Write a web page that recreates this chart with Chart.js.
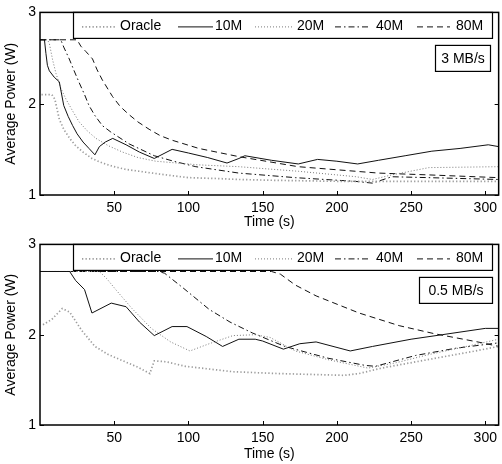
<!DOCTYPE html>
<html>
<head>
<meta charset="utf-8">
<script src="https://cdn.jsdelivr.net/npm/chart.js@4.4.1/dist/chart.umd.min.js"></script>
<style>
  html, body { margin: 0; padding: 0; background: #fff; }
  #wrap { width: 502px; height: 464px; position: relative; }
  .panel { position: absolute; left: 0; width: 502px; height: 232px; }
</style>
</head>
<body>
<div id="wrap">
  <div class="panel" style="top:0"><canvas id="top"></canvas></div>
  <div class="panel" style="top:232px"><canvas id="bottom"></canvas></div>
</div>
<script>
// series names, ticks
const seriesNames = ['Oracle', '10M', '20M', '40M', '80M'];
const xTicks = [50, 100, 150, 200, 250, 300];
const yTicks = [1, 2, 3];
const rateLabels = ['3 MB/s', '0.5 MB/s'];

// 3 MB/s panel: [time (s), power (W)]
const topOracle = [[1,2.1],[8,2.1],[10,2.05],[13,1.83],[16,1.72],[20,1.62],[24,1.54],[29,1.47],[35,1.40],[42,1.35],[50,1.31],[58,1.28],[67,1.26],[80,1.23],[100,1.19],[120,1.18],[134,1.17],[160,1.16],[200,1.15],[240,1.15],[280,1.15],[309,1.15]];
const top10M = [[0,2.7],[3,2.7],[4,2.55],[5,2.42],[6.3,2.36],[9.6,2.29],[13,2.24],[16,1.98],[19,1.86],[22,1.76],[25,1.67],[29,1.58],[33,1.51],[37,1.44],[40,1.53],[44,1.58],[49,1.62],[58,1.55],[67,1.47],[77,1.40],[89,1.50],[100,1.46],[113,1.41],[126,1.35],[134,1.40],[138,1.43],[156,1.38],[174,1.34],[187,1.39],[200,1.37],[214,1.34],[228,1.38],[246,1.43],[264,1.48],[283,1.51],[302,1.55],[309,1.53]];
const top20M = [[0,2.7],[5,2.7],[6.3,2.66],[8.5,2.48],[10.8,2.33],[14,2.17],[17.5,2.05],[22,1.92],[26.4,1.80],[32,1.70],[37.7,1.62],[46,1.54],[55.6,1.47],[66,1.41],[78,1.37],[107,1.33],[134,1.31],[174,1.26],[213,1.20],[224,1.17],[237,1.22],[262,1.30],[309,1.31]];
const top40M = [[0,2.7],[14,2.7],[16,2.62],[19.7,2.49],[23,2.36],[26.4,2.23],[30,2.10],[33,1.98],[37,1.87],[42,1.76],[47.7,1.69],[60,1.56],[77,1.43],[90,1.37],[105,1.31],[134,1.24],[172,1.19],[212,1.15],[224,1.13],[237,1.20],[262,1.19],[309,1.17]];
const top80M = [[0,2.7],[25,2.7],[27.5,2.63],[31,2.57],[35.4,2.49],[38.5,2.37],[42,2.26],[48.8,2.08],[54,1.97],[60,1.88],[66,1.80],[73.5,1.72],[81,1.65],[89,1.60],[107,1.51],[134,1.42],[174,1.31],[228,1.24],[262,1.22],[309,1.19]];

// 0.5 MB/s panel
const botOracle = [[2,2.11],[8,2.17],[15,2.29],[20,2.25],[28,2.05],[37,1.87],[46,1.78],[56,1.71],[66,1.64],[74,1.57],[77,1.71],[85,1.70],[98,1.65],[130,1.59],[160,1.57],[205,1.55],[215,1.57],[230,1.63],[260,1.72],[290,1.81],[309,1.87]];
const bot10M = [[0,2.7],[20,2.7],[24,2.60],[30,2.50],[35,2.24],[48,2.35],[58,2.31],[67,2.14],[77,1.99],[89,2.09],[99,2.09],[112,1.98],[123,1.87],[134,1.95],[145,1.95],[150,1.93],[164,1.84],[175,1.90],[186,1.92],[209,1.82],[224,1.87],[250,1.95],[271,2.00],[300,2.07],[309,2.07]];
const bot20M = [[0,2.7],[40,2.7],[45,2.62],[51,2.50],[62,2.29],[75,2.07],[88,1.92],[101,1.82],[114,1.90],[130,1.99],[145,2.00],[155,1.97],[172,1.82],[195,1.72],[221,1.63],[240,1.69],[262,1.78],[290,1.88],[309,1.95]];
const bot40M = [[0,2.7],[80,2.7],[84,2.68],[97,2.51],[114,2.28],[128,2.14],[143,2.02],[165,1.87],[194,1.74],[219,1.66],[226,1.65],[253,1.77],[280,1.85],[309,1.91]];
const bot80M = [[0,2.7],[156,2.7],[162,2.67],[172,2.55],[186,2.43],[215,2.24],[242,2.10],[266,2.01],[298,1.91],[309,1.87]];

const lineStyles = [
  { borderColor: '#9c9c9c', borderWidth: 1.7, borderDash: [1.3, 2.2] },
  { borderColor: '#111', borderWidth: 1, borderDash: [] },
  { borderColor: '#7a7a7a', borderWidth: 1, borderDash: [1, 2] },
  { borderColor: '#111', borderWidth: 1, borderDash: [6, 3, 1.5, 3] },
  { borderColor: '#111', borderWidth: 1, borderDash: [6, 4] }
];
const FONT = '"Liberation Sans", Arial, Helvetica, sans-serif';

const toPts = arr => arr.map(([x, y]) => ({ x, y }));

// inner ticks, frame, legend box and rate label
const panelPlugin = {
  id: 'panel',
  afterDatasetsDraw(chart, args, opts) {
    const ctx = chart.ctx;
    const a = chart.chartArea;
    const xs = chart.scales.x, ys = chart.scales.y;
    ctx.save();
    ctx.strokeStyle = '#000';
    ctx.lineWidth = 1;
    ctx.setLineDash([]);
    ctx.beginPath();
    xTicks.forEach(v => {
      const px = Math.round(xs.getPixelForValue(v)) + 0.5;
      ctx.moveTo(px, a.bottom); ctx.lineTo(px, a.bottom - 4);
      ctx.moveTo(px, a.top); ctx.lineTo(px, a.top + 4);
    });
    yTicks.forEach(v => {
      const py = Math.round(ys.getPixelForValue(v)) + 0.5;
      ctx.moveTo(a.left, py); ctx.lineTo(a.left + 4, py);
      ctx.moveTo(a.right, py); ctx.lineTo(a.right - 4, py);
    });
    ctx.stroke();

    // legend
    const lx = 73.5, lw = 419, ly = a.top, lh = 26;
    ctx.fillStyle = '#fff';
    ctx.fillRect(lx, ly, lw, lh);
    ctx.lineWidth = 1.2;
    ctx.strokeRect(lx, ly, lw, lh);
    const items = [[82, 117, 120], [178, 213, 215], [255, 292, 297], [335, 370, 376], [417, 450, 456]];
    const cy = ly + 14;
    ctx.font = '14px ' + FONT;
    ctx.textBaseline = 'middle';
    items.forEach(([s, e, tx], i) => {
      const st = lineStyles[i];
      ctx.strokeStyle = st.borderColor;
      ctx.lineWidth = st.borderWidth;
      ctx.setLineDash(st.borderDash);
      ctx.beginPath();
      ctx.moveTo(s, cy + 0.5); ctx.lineTo(e, cy + 0.5);
      ctx.stroke();
      ctx.fillStyle = '#000';
      ctx.fillText(seriesNames[i], tx, cy);
    });

    // rate box
    ctx.setLineDash([]);
    ctx.strokeStyle = '#000';
    ctx.lineWidth = 1.2;
    const [bx, bw] = opts.box;
    const by = a.top + 33, bh = 26;
    ctx.fillStyle = '#fff';
    ctx.fillRect(bx, by, bw, bh);
    ctx.strokeRect(bx, by, bw, bh);
    ctx.fillStyle = '#000';
    ctx.textAlign = 'center';
    ctx.fillText(opts.rate, bx + bw / 2, by + bh / 2 + 1);

    // frame
    ctx.lineWidth = 1.5;
    ctx.strokeRect(a.left, a.top, a.right - a.left, a.bottom - a.top);
    ctx.restore();
  }
};

function makeChart(id, series, rate, box, padTop, xHeight) {
  const datasets = series.map((s, i) => Object.assign({
    label: seriesNames[i],
    data: toPts(s),
    pointRadius: 0,
    tension: 0,
    fill: false
  }, lineStyles[i]));
  return new Chart(document.getElementById(id), {
    type: 'line',
    data: { datasets },
    options: {
      responsive: true,
      maintainAspectRatio: false,
      animation: false,
      events: [],
      layout: { padding: { top: padTop, right: 1, left: 0, bottom: 0 } },
      plugins: {
        legend: { display: false },
        tooltip: { enabled: false },
        panel: { rate, box }
      },
      scales: {
        x: {
          type: 'linear',
          min: 0, max: 309,
          afterBuildTicks: s => { s.ticks = xTicks.map(v => ({ value: v })); },
          afterFit: s => { s.height = xHeight; },
          grid: { display: false, drawTicks: false },
          border: { display: false },
          ticks: { color: '#000', padding: 5, font: { family: FONT, size: 14 }, maxRotation: 0 },
          title: { display: true, text: 'Time (s)', color: '#000', padding: { top: 0, bottom: 1 }, font: { family: FONT, size: 14 } }
        },
        y: {
          min: 1, max: 3,
          afterBuildTicks: s => { s.ticks = yTicks.map(v => ({ value: v })); },
          afterFit: s => { s.width = 40; },
          grid: { display: false, drawTicks: false },
          border: { display: false },
          ticks: { color: '#000', padding: 4, font: { family: FONT, size: 14 } },
          title: { display: true, text: 'Average Power (W)', color: '#000', padding: { top: 3, bottom: 0 }, font: { family: FONT, size: 14 } }
        }
      }
    },
    plugins: [panelPlugin]
  });
}

makeChart('top', [topOracle, top10M, top20M, top40M, top80M], rateLabels[0], [435.5, 55], 7, 37);
makeChart('bottom', [botOracle, bot10M, bot20M, bot40M, bot80M], rateLabels[1], [419.5, 73], 6, 39);
</script>
</body>
</html>
